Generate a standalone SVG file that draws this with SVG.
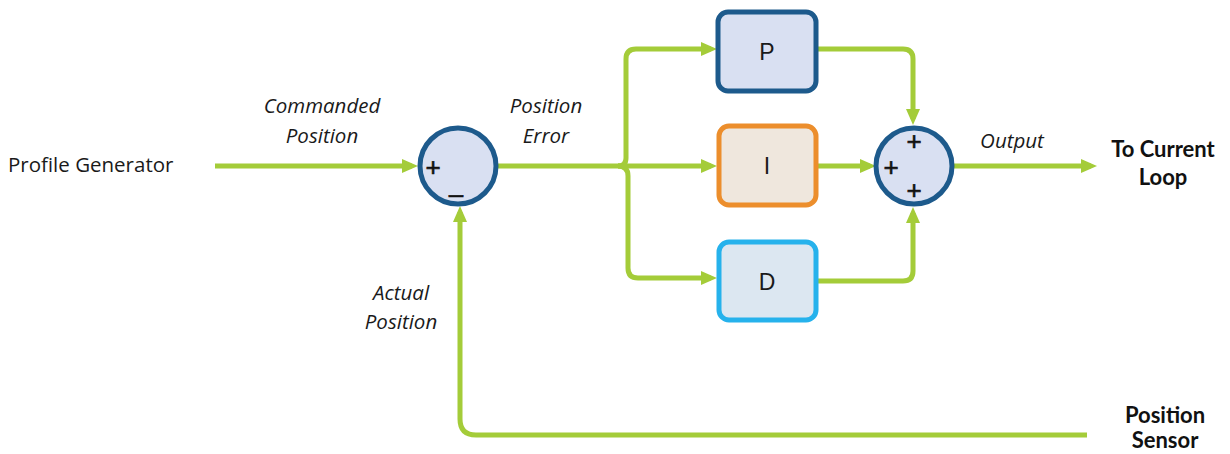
<svg xmlns="http://www.w3.org/2000/svg" width="1230" height="454" viewBox="0 0 1230 454">
<style>
.w{fill:none;stroke:#a4cc39;stroke-width:5;stroke-linejoin:round}
.lbl{font-family:"Open Sans","Liberation Sans",sans-serif;font-size:20.5px;fill:#1a1a1a}
.it{font-style:italic;text-anchor:middle}
.bd{font-family:Lato,"Open Sans",sans-serif;font-weight:bold;font-size:22px;fill:#111;text-anchor:middle}
.blk{font-family:"Liberation Sans",Arial,sans-serif;font-size:23px;fill:#1a1a1a;text-anchor:middle}
.sg{font-family:"Liberation Sans",Arial,sans-serif;font-size:26px;fill:#111;text-anchor:middle;stroke:#111;stroke-width:0.6}
</style>
<defs>
<marker id="ah" markerWidth="17" markerHeight="14" refX="10" refY="7" orient="auto" markerUnits="userSpaceOnUse">
<path d="M0,0 L16,7 L0,14 Z" fill="#a4cc39"/>
</marker>
</defs>
<g id="connectors">
<path class="w" d="M215,166 H412" marker-end="url(#ah)"/>
<path class="w" d="M498,166 H711" marker-end="url(#ah)"/>
<path class="w" d="M618,166 Q626,166 626,158 V59 Q626,49 636,49 H711" marker-end="url(#ah)"/>
<path class="w" d="M618,166 Q628,166 628,176 V268 Q628,278 638,278 H711" marker-end="url(#ah)"/>
<path class="w" d="M817,49 H903 Q913,49 913,59 V119" marker-end="url(#ah)"/>
<path class="w" d="M817,166 H870" marker-end="url(#ah)"/>
<path class="w" d="M817,281 H903 Q913,281 913,271 V213" marker-end="url(#ah)"/>
<path class="w" d="M953,166 H1091" marker-end="url(#ah)"/>
<path class="w" d="M1087,435 H476 Q460,435 460,419 V212" marker-end="url(#ah)"/>
</g>
<g id="sum1">
<circle cx="458" cy="166" r="38" fill="#d9e0f2" stroke="#1d5a8c" stroke-width="5"/>
<text class="sg" x="433" y="176">+</text>
<text class="sg" x="456" y="203">–</text>
</g>
<g id="P">
<rect x="718" y="12" width="98" height="79" rx="10" fill="#d9e0f2" stroke="#1d5a8c" stroke-width="5"/>
<text class="blk" x="767" y="60">P</text>
</g>
<g id="I">
<rect x="719" y="126" width="97" height="79" rx="10" fill="#efe7dd" stroke="#ec8e2c" stroke-width="5"/>
<text class="blk" x="767" y="174">I</text>
</g>
<g id="D">
<rect x="719" y="242" width="97" height="78" rx="10" fill="#dce7f1" stroke="#26b2ec" stroke-width="5"/>
<text class="blk" x="767" y="290">D</text>
</g>
<g id="sum2">
<circle cx="914" cy="166" r="38" fill="#d9e0f2" stroke="#1d5a8c" stroke-width="5"/>
<text class="sg" x="914" y="150">+</text>
<text class="sg" x="891" y="176">+</text>
<text class="sg" x="914" y="199">+</text>
</g>
<g id="labels">
<text class="lbl" x="8" y="172">Profile Generator</text>
<text class="lbl it" x="322" y="113">Commanded</text>
<text class="lbl it" x="322" y="143">Position</text>
<text class="lbl it" x="546" y="113">Position</text>
<text class="lbl it" x="546" y="143">Error</text>
<text class="lbl it" x="1012" y="148">Output</text>
<text class="lbl it" x="401" y="300">Actual</text>
<text class="lbl it" x="401" y="329">Position</text>
<text class="bd" x="1163" y="157">To Current</text>
<text class="bd" x="1163" y="185">Loop</text>
<text class="bd" x="1165" y="423">Position</text>
<text class="bd" x="1165" y="448">Sensor</text>
</g>
</svg>
